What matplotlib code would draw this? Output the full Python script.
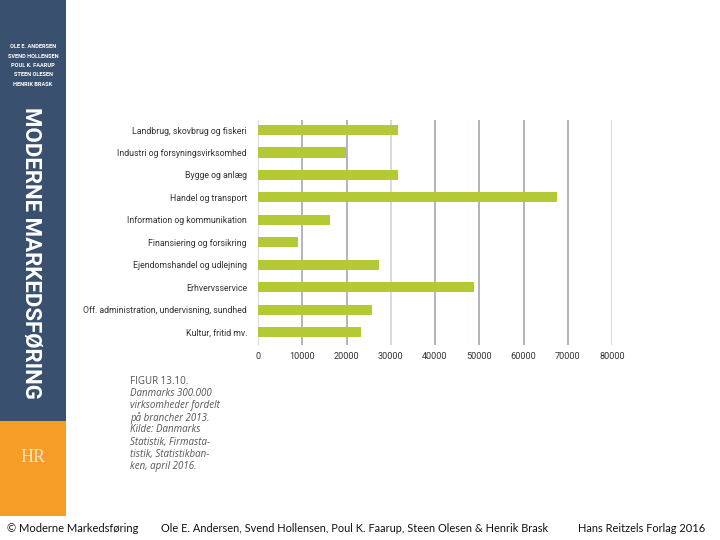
import matplotlib
matplotlib.use("Agg")
import matplotlib.pyplot as plt
from matplotlib.patches import Rectangle

categories = [
    "Landbrug, skovbrug og fiskeri",
    "Industri og forsyningsvirksomhed",
    "Bygge og anlæg",
    "Handel og transport",
    "Information og kommunikation",
    "Finansiering og forsikring",
    "Ejendomshandel og udlejning",
    "Erhvervsservice",
    "Off. administration, undervisning, sundhed",
    "Kultur, fritid mv.",
]
values = [31700, 19900, 31700, 67600, 16300, 9100, 27300, 48800, 25800, 23200]
xticks = [0, 10000, 20000, 30000, 40000, 50000, 60000, 70000, 80000]
authors = ["OLE E. ANDERSEN", "SVEND HOLLENSEN", "POUL K. FAARUP", "STEEN OLESEN", "HENRIK BRASK"]
caption = ["FIGUR 13.10.", "Danmarks 300.000", "virksomheder fordelt", "på brancher 2013.",
           "Kilde: Danmarks", "Statistik, Firmasta-", "tistik, Statistikban-", "ken, april 2016."]

NARROW = ["Roboto", "DejaVu Sans"]
W, H = 720, 540
fig = plt.figure(figsize=(7.2, 5.4), dpi=100)
fig.patch.set_facecolor("white")

def fx(px): return px / W
def fy(py): return 1 - py / H

# sidebar
fig.patches.append(Rectangle((0, fy(421)), fx(66), 421 / H, transform=fig.transFigure,
                             facecolor="#3a506f", edgecolor="none"))
fig.patches.append(Rectangle((0, fy(516)), fx(66), 95 / H, transform=fig.transFigure,
                             facecolor="#f59d27", edgecolor="none"))
for i, a in enumerate(authors):
    fig.text(fx(33), fy(47 + i * 9.3), a, ha="center", va="center", color="white",
             fontsize=4.1, fontweight="bold", family=NARROW)
fig.text(fx(31), fy(253), "MODERNE MARKEDSFØRING", rotation=-90, ha="center", va="center",
         color="white", fontsize=16, fontweight="bold", family=NARROW)
fig.text(fx(33), fy(458), "HR", ha="center", va="center", color="#f8e6c0",
         fontsize=13, family=["Liberation Serif", "DejaVu Serif"])

# chart
ax = fig.add_axes([fx(258), fy(345), fx(612 - 258), (345 - 120) / H])
ypos = list(range(len(categories)))
for x in xticks:
    c = "#cbcfd5" if x in (0, 30000, 80000) else "#9aa1aa"
    ax.axvline(x, color=c, lw=1.1, zorder=0)
ax.barh(ypos, values, height=0.45, color="#b5c934", zorder=2)
ax.set_xlim(0, 80000)
ax.set_ylim(9.58, -0.45)
ax.set_yticks(ypos)
ax.set_yticklabels(categories, family=NARROW, fontsize=6.3, color="#333333")
ax.set_xticks(xticks)
ax.set_xticklabels([str(x) for x in xticks], family=NARROW, fontsize=6.6, color="#333333")
ax.tick_params(axis="both", length=0)
ax.tick_params(axis="y", pad=8)
ax.tick_params(axis="x", pad=5)
for s in ax.spines.values():
    s.set_visible(False)
ax.set_facecolor("none")

# caption
for i, line in enumerate(caption):
    fig.text(fx(130), fy(381 + i * 12.2), line, ha="left", va="center", color="#555555",
             fontsize=7.0, style="normal" if i == 0 else "italic",
             family=["Open Sans", "DejaVu Sans"])

# footer
ff = ["Lato", "DejaVu Sans"]
fig.text(fx(7), fy(528), "© Moderne Markedsføring", fontsize=8.0, family=ff, va="center", color="#111111")
fig.text(fx(161), fy(528), "Ole E. Andersen, Svend Hollensen, Poul K. Faarup, Steen Olesen & Henrik Brask",
         fontsize=7.9, family=ff, va="center", color="#111111")
fig.text(fx(578), fy(528), "Hans Reitzels Forlag 2016", fontsize=7.9, family=ff, va="center", color="#111111")

fig.savefig("out.png", dpi=100)
